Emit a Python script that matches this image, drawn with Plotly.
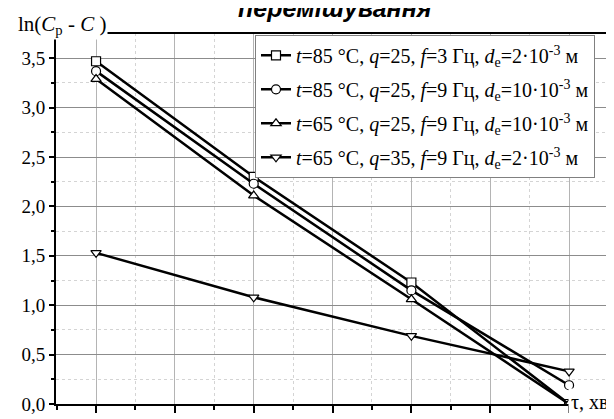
import plotly.graph_objects as go

# Data
tau = [10, 20, 30, 40]
s1 = [3.47, 2.30, 1.23, 0.00]
s2 = [3.37, 2.23, 1.15, 0.19]
s3 = [3.29, 2.11, 1.06, 0.00]
s4 = [1.53, 1.08, 0.69, 0.33]

names = [
    "<i>t</i>=85 °C, <i>q</i>=25, <i>f</i>=3 Гц, <i>d</i><sub>е</sub>=2·10<sup>-3</sup> м",
    "<i>t</i>=85 °C, <i>q</i>=25, <i>f</i>=9 Гц, <i>d</i><sub>е</sub>=10·10<sup>-3</sup> м",
    "<i>t</i>=65 °C, <i>q</i>=25, <i>f</i>=9 Гц, <i>d</i><sub>е</sub>=10·10<sup>-3</sup> м",
    "<i>t</i>=65 °C, <i>q</i>=35, <i>f</i>=9 Гц, <i>d</i><sub>е</sub>=2·10<sup>-3</sup> м",
]
series = [s1, s2, s3, s4]
symbols = ["square", "circle", "triangle-up", "triangle-down"]

SERIF = "Liberation Serif, Times New Roman, serif"

fig = go.Figure()
for i, (ys, nm, sym) in enumerate(zip(series, names, symbols)):
    fig.add_trace(go.Scatter(
        x=tau, y=ys, name=nm, mode="lines+markers", legendgroup=f"g{i}",
        line=dict(color="black", width=2.5),
        marker=dict(symbol=sym, size=9, color="white",
                    line=dict(color="black", width=1.2)),
    ))

fig.update_layout(
    width=614, height=419,
    margin=dict(l=48, r=14, t=25, b=12),
    paper_bgcolor="white", plot_bgcolor="white",
    separators=", ",
    font=dict(family=SERIF, size=18, color="black"),
    showlegend=True,
    legend=dict(
        x=0.3605, y=0.995, xanchor="left", yanchor="top",
        bgcolor="white", bordercolor="#808080", borderwidth=1,
        font=dict(family=SERIF, size=20, color="black"),
        itemwidth=30, tracegroupgap=5,
    ),
)

fig.update_xaxes(
    range=[7.46, 42.47], showticklabels=False,
    tick0=0, dtick=5, ticks="outside", ticklen=7, tickwidth=1.5, tickcolor="black",
    showgrid=True, gridcolor="#b4b4b4", gridwidth=1,
    showline=True, linecolor="black", linewidth=2,
    zeroline=False,
    minor=dict(dtick=2.5, tick0=0, ticks="outside", ticklen=4, tickwidth=1.5, tickcolor="black",
               showgrid=True, gridcolor="#d4d4d4", griddash="dot", gridwidth=1),
)
fig.update_yaxes(
    range=[0, 3.756],
    tick0=0, dtick=0.5, tickformat=".1f", ticks="outside", ticklen=5, tickwidth=1.5, tickcolor="black",
    tickfont=dict(family=SERIF, size=19, color="black"),
    showgrid=True, gridcolor="#8c8c8c", gridwidth=1,
    showline=True, linecolor="black", linewidth=2,
    zeroline=False,
    minor=dict(dtick=0.25, tick0=0, ticks="outside", ticklen=3, tickwidth=1.5, tickcolor="black",
               showgrid=True, gridcolor="#d4d4d4", griddash="dot", gridwidth=1),
)

# frame lines (top and right)
fig.add_shape(type="line", xref="paper", yref="paper", x0=0, x1=1.004, y0=1, y1=1,
              line=dict(color="black", width=2), layer="above")
fig.add_shape(type="line", xref="paper", yref="paper", x0=1, x1=1, y0=1, y1=0.04,
              line=dict(color="black", width=2), layer="above")

# axis titles
fig.add_annotation(
    text="ln(<i>C</i><sub>p</sub> - <i>C</i> )", xref="paper", yref="paper",
    x=-0.072, y=1.021, xanchor="left", yanchor="middle", showarrow=False,
    font=dict(family=SERIF, size=21, color="black"), bgcolor="white", borderpad=1,
)
fig.add_annotation(
    text="τ, хв", xref="paper", yref="paper",
    x=0.928, y=0.006, xanchor="left", yanchor="middle", showarrow=False,
    font=dict(family=SERIF, size=20, color="black"), bgcolor="white", borderpad=2,
)
# title (cut off at the top in the reference)
fig.add_annotation(
    text="<b><i>перемішування</i></b>", xref="paper", yref="paper",
    x=0.506, y=1.068, xanchor="center", yanchor="middle", showarrow=False,
    font=dict(family="Liberation Sans, Arial, sans-serif", size=25, color="black"),
)

fig.write_html("out.html")
